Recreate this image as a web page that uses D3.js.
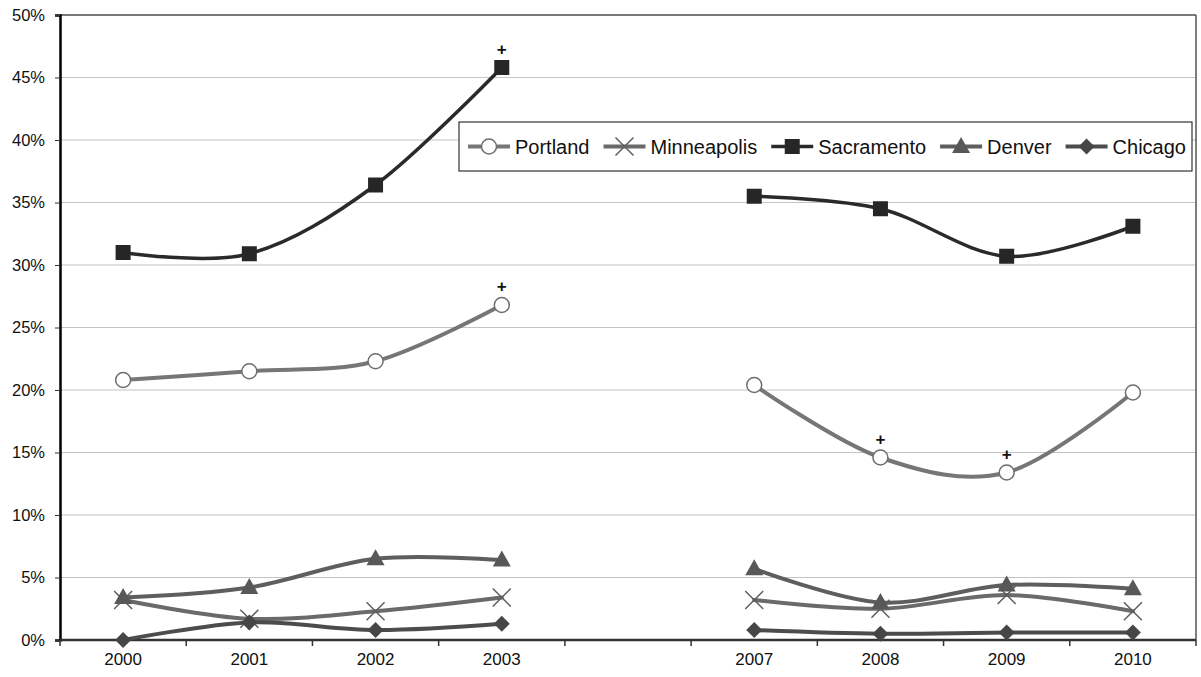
<!DOCTYPE html>
<html>
<head>
<meta charset="utf-8">
<script src="https://cdn.jsdelivr.net/npm/d3@7"></script>
<style>
  html, body { margin: 0; padding: 0; background: #fff; }
  svg { display: block; font-family: "Liberation Sans", Arial, sans-serif; }
</style>
</head>
<body>
<svg id="chart" width="1201" height="677"></svg>
<script>
// ---- data ----
const categories = ["2000", "2001", "2002", "2003", "", "2007", "2008", "2009", "2010"];
const yTicks = [0, 0.05, 0.10, 0.15, 0.20, 0.25, 0.30, 0.35, 0.40, 0.45, 0.50];
const portland    = [0.208, 0.215, 0.223, 0.268, null, 0.204, 0.146, 0.134, 0.198];
const minneapolis = [0.032, 0.017, 0.023, 0.034, null, 0.032, 0.025, 0.036, 0.023];
const sacramento  = [0.310, 0.309, 0.364, 0.458, null, 0.355, 0.345, 0.307, 0.331];
const denver      = [0.034, 0.042, 0.065, 0.064, null, 0.057, 0.030, 0.044, 0.041];
const chicago     = [0.000, 0.014, 0.008, 0.013, null, 0.008, 0.005, 0.006, 0.006];
const portlandSig   = [0, 0, 0, 1, null, 0, 1, 1, 0];
const sacramentoSig = [0, 0, 0, 1, null, 0, 0, 0, 0];

const series = [
  { name: "Portland",    values: portland,    sig: portlandSig,   line: "#767676", width: 4, marker: "circle",   fill: "#ffffff", stroke: "#6e6e6e" },
  { name: "Minneapolis", values: minneapolis, sig: null,          line: "#6a6a6a", width: 4, marker: "x",        fill: "none",    stroke: "#5e5e5e" },
  { name: "Sacramento",  values: sacramento,  sig: sacramentoSig, line: "#2a2a2a", width: 3.5, marker: "square", fill: "#262626", stroke: "#262626" },
  { name: "Denver",      values: denver,      sig: null,          line: "#5e5e5e", width: 4, marker: "triangle", fill: "#585858", stroke: "#585858" },
  { name: "Chicago",     values: chicago,     sig: null,          line: "#4c4c4c", width: 4, marker: "diamond",  fill: "#464646", stroke: "#464646" }
];

// ---- layout ----
const L = 60, R = 1196, T = 15, B = 640;
const svg = d3.select("#chart");

const x = d3.scaleBand().domain(d3.range(categories.length)).range([L, R]).padding(0);
const y = d3.scaleLinear().domain([0, 0.5]).range([B, T]);
const cx = i => x(i) + x.bandwidth() / 2;

// gridlines
svg.append("g").selectAll("line").data(yTicks.filter(d => d > 0)).join("line")
  .attr("x1", L).attr("x2", R).attr("y1", d => y(d)).attr("y2", d => y(d))
  .attr("stroke", "#c4c4c4").attr("stroke-width", 1.2);

// frame (top & right)
svg.append("line").attr("x1", L).attr("x2", R).attr("y1", T).attr("y2", T)
  .attr("stroke", "#555").attr("stroke-width", 1.5);
svg.append("line").attr("x1", R).attr("x2", R).attr("y1", T).attr("y2", B)
  .attr("stroke", "#555").attr("stroke-width", 1.5);

// y axis
const yAxis = d3.axisLeft(y).tickValues(yTicks).tickFormat(d3.format(".0%")).tickSize(5).tickPadding(10);
const gy = svg.append("g").attr("transform", `translate(${L},0)`).call(yAxis);
gy.select(".domain").attr("stroke", "#000").attr("stroke-width", 2.5);
gy.selectAll(".tick line").attr("stroke", "#333");
gy.selectAll(".tick text").attr("font-size", 16.5).attr("fill", "#111")
  .attr("font-family", "Liberation Sans, Arial, sans-serif");

// x axis (labels at centers)
const xAxis = d3.axisBottom(x).tickFormat(i => categories[i]).tickSize(0).tickPadding(13);
const gx = svg.append("g").attr("transform", `translate(0,${B})`).call(xAxis);
gx.select(".domain").remove();
gx.selectAll(".tick text").attr("font-size", 17).attr("fill", "#111")
  .attr("font-family", "Liberation Sans, Arial, sans-serif");

// x boundary ticks
const bounds = d3.range(categories.length + 1).map(i => i < categories.length ? x(i) : x(categories.length - 1) + x.bandwidth());
svg.append("g").selectAll("line").data(bounds).join("line")
  .attr("x1", d => d).attr("x2", d => d).attr("y1", B).attr("y2", B + 6)
  .attr("stroke", "#333").attr("stroke-width", 1.5);
svg.append("line").attr("x1", L).attr("x2", R).attr("y1", B).attr("y2", B)
  .attr("stroke", "#333").attr("stroke-width", 2.5);

// markers
function drawMarker(g, type, px, py, s) {
  if (type === "circle") {
    g.append("circle").attr("cx", px).attr("cy", py).attr("r", 7.5)
      .attr("fill", s.fill).attr("stroke", s.stroke).attr("stroke-width", 1.5);
  } else if (type === "square") {
    g.append("rect").attr("x", px - 7.5).attr("y", py - 7.5).attr("width", 15).attr("height", 15)
      .attr("fill", s.fill);
  } else if (type === "triangle") {
    g.append("path").attr("d", `M${px},${py - 9.5} L${px + 9},${py + 6.5} L${px - 9},${py + 6.5} Z`)
      .attr("fill", s.fill);
  } else if (type === "diamond") {
    g.append("path").attr("d", `M${px},${py - 8} L${px + 8},${py} L${px},${py + 8} L${px - 8},${py} Z`)
      .attr("fill", s.fill);
  } else if (type === "x") {
    const r = 9;
    g.append("path").attr("d", `M${px - r},${py - r} L${px + r},${py + r} M${px - r},${py + r} L${px + r},${py - r}`)
      .attr("stroke", s.stroke).attr("stroke-width", 1.5).attr("fill", "none");
  }
}

const line = d3.line()
  .defined(d => d.v !== null)
  .x(d => cx(d.i)).y(d => y(d.v))
  .curve(d3.curveCardinal.tension(0));

series.forEach(s => {
  const g = svg.append("g");
  const pts = s.values.map((v, i) => ({ i, v }));
  g.append("path").datum(pts).attr("d", line)
    .attr("fill", "none").attr("stroke", s.line).attr("stroke-width", s.width)
    .attr("stroke-linejoin", "round").attr("stroke-linecap", "round");
  pts.filter(d => d.v !== null).forEach(d => drawMarker(g, s.marker, cx(d.i), y(d.v), s));
  if (s.sig) {
    pts.filter(d => d.v !== null && s.sig[d.i] === 1).forEach(d => {
      g.append("text").attr("x", cx(d.i)).attr("y", y(d.v) - 13)
        .attr("text-anchor", "middle").attr("font-size", 17).attr("font-weight", "bold")
        .attr("fill", "#111").text("+");
    });
  }
});

// legend
const lg = svg.append("g");
lg.append("rect").attr("x", 459).attr("y", 122).attr("width", 733).attr("height", 49)
  .attr("fill", "#fff").attr("stroke", "#333").attr("stroke-width", 1.2);
let lx = 468;
const ly = 146.5;
series.forEach(s => {
  const g = lg.append("g");
  g.append("line").attr("x1", lx).attr("x2", lx + 42).attr("y1", ly).attr("y2", ly)
    .attr("stroke", s.line).attr("stroke-width", s.width);
  drawMarker(g, s.marker, lx + 21, ly, s);
  const t = g.append("text").attr("x", lx + 47).attr("y", ly + 7)
    .attr("font-size", 20).attr("fill", "#111").text(s.name);
  lx = lx + 47 + t.node().getComputedTextLength() + 14;
});
</script>
</body>
</html>
